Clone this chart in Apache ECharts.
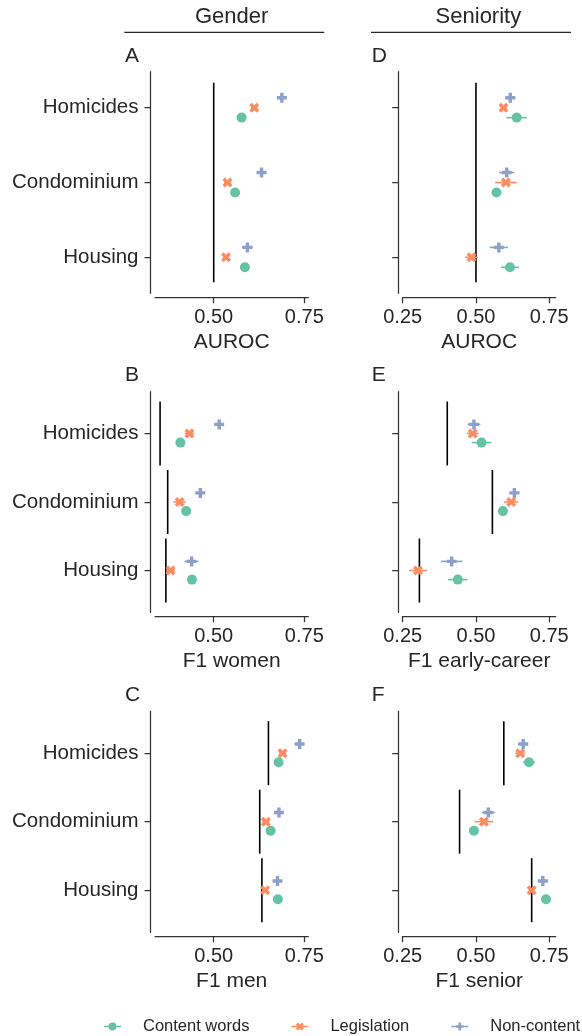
<!DOCTYPE html>
<html>
<head>
<meta charset="utf-8">
<script src="https://cdn.jsdelivr.net/npm/echarts@6/dist/echarts.min.js"></script>
<style>
html,body{margin:0;padding:0;background:#fff;}
#chart{width:582px;height:1036px;}
</style>
</head>
<body>
<div id="chart"></div>
<script>
// ---------- data ----------
const categories = ['Homicides', 'Condominium', 'Housing'];
const seriesNames = ['Content words', 'Legislation', 'Non-content'];
const leftTicks = [0.5, 0.75];
const rightTicks = [0.25, 0.5, 0.75];
const panelLetters = ['A', 'B', 'C', 'D', 'E', 'F'];
const axisTitles = ['AUROC', 'F1 women', 'F1 men', 'AUROC', 'F1 early-career', 'F1 senior'];
const groupTitles = ['Gender', 'Seniority'];

// rows: Content words, Legislation, Non-content ; columns: categories
const A_mean = [[0.577, 0.559, 0.586], [0.612, 0.538, 0.534], [0.688, 0.632, 0.593]];
const A_err  = [[0.008, 0.008, 0.008], [0.009, 0.009, 0.008], [0.011, 0.010, 0.015]];
const B_mean = [[0.408, 0.424, 0.440], [0.433, 0.406, 0.381], [0.515, 0.463, 0.439]];
const B_err  = [[0.008, 0.008, 0.008], [0.013, 0.017, 0.012], [0.013, 0.013, 0.019]];
const C_mean = [[0.679, 0.657, 0.677], [0.690, 0.644, 0.642], [0.737, 0.680, 0.676]];
const C_err  = [[0.008, 0.008, 0.008], [0.010, 0.010, 0.008], [0.012, 0.010, 0.010]];
const D_mean = [[0.639, 0.570, 0.616], [0.594, 0.602, 0.485], [0.617, 0.605, 0.578]];
const D_err  = [[0.035, 0.010, 0.031], [0.010, 0.037, 0.022], [0.017, 0.026, 0.031]];
const E_mean = [[0.519, 0.592, 0.438], [0.489, 0.620, 0.302], [0.493, 0.631, 0.417]];
const E_err  = [[0.034, 0.010, 0.033], [0.020, 0.024, 0.031], [0.022, 0.017, 0.037]];
const F_mean = [[0.681, 0.493, 0.739], [0.651, 0.527, 0.690], [0.661, 0.542, 0.728]];
const F_err  = [[0.020, 0.012, 0.010], [0.017, 0.032, 0.010], [0.017, 0.022, 0.017]];

const chanceAUROC = 0.5;
const B_base = [0.352, 0.373, 0.368];
const C_base = [0.651, 0.627, 0.633];
const E_base = [0.402, 0.556, 0.307];
const F_base = [0.595, 0.444, 0.690];

// ---------- styling / layout ----------
const FONT = '"Liberation Sans", Arial, Helvetica, sans-serif';
const TXT = '#262626';
const AX = '#333333';
const colors = ['#66c2a5', '#fc8d62', '#8da0cb'];
const xPath = 'path://M75,0 L100,25 L75,50 L100,75 L75,100 L50,75 L25,100 L0,75 L25,50 L0,25 L25,0 L50,25 Z';
const plusPath = 'path://M33,0 H67 V33 H100 V67 H67 V100 H33 V67 H0 V33 H33 Z';
const symbols = ['circle', xPath, plusPath];
const symbolSizes = [10, 10, 10];
const dodge = [0.133, 0, -0.133];

const lineSeg = 'M0,38 H170 V52 H0 Z ';
const legendIcons = [
  'path://' + lineSeg + 'M45,45 A40,40 0 1,1 125,45 A40,40 0 1,1 45,45 Z',
  'path://' + lineSeg + 'M105,5 L125,25 L105,45 L125,65 L105,85 L85,65 L65,85 L45,65 L65,45 L45,25 L65,5 L85,25 Z',
  'path://' + lineSeg + 'M71.5,5 H98.5 V31.5 H125 V58.5 H98.5 V85 H71.5 V58.5 H45 V31.5 H71.5 Z'
];

const rows = [
  {top: 71.7, height: 221.6, ymin: -0.48, ymax: 2.48, letterY: 56.7},
  {top: 391.7, height: 220.6, ymin: -0.61, ymax: 2.61, letterY: 375},
  {top: 711, height: 221.3, ymin: -0.615, ymax: 2.615, letterY: 695}
];
const cols = [
  {left: 155, width: 153.3, xmin: 0.338, xmax: 0.761, ticks: leftTicks, labels: true, letterX: 125, lineX1: 124.3, lineX2: 324.3},
  {left: 402.7, width: 153, xmin: 0.25, xmax: 0.772, ticks: rightTicks, labels: false, letterX: 371.7, lineX1: 371, lineX2: 571}
];

const panels = [
  {mean: A_mean, err: A_err, base: null, col: 0, row: 0},
  {mean: B_mean, err: B_err, base: B_base, col: 0, row: 1},
  {mean: C_mean, err: C_err, base: C_base, col: 0, row: 2},
  {mean: D_mean, err: D_err, base: null, col: 1, row: 0},
  {mean: E_mean, err: E_err, base: E_base, col: 1, row: 1},
  {mean: F_mean, err: F_err, base: F_base, col: 1, row: 2}
];

const grid = [], xAxis = [], yAxis = [], series = [], graphic = [];

function vLine(params, api) {
  const p1 = api.coord([api.value(0), api.value(1)]);
  const p2 = api.coord([api.value(0), api.value(2)]);
  return {type: 'line', shape: {x1: p1[0], y1: p1[1], x2: p2[0], y2: p2[1]},
          style: {stroke: '#000', lineWidth: 1.6}};
}
function hLineFactory(color) {
  return function (params, api) {
    const p1 = api.coord([api.value(0), api.value(2)]);
    const p2 = api.coord([api.value(1), api.value(2)]);
    return {type: 'line', shape: {x1: p1[0], y1: p1[1], x2: p2[0], y2: p2[1]},
            style: {stroke: color, lineWidth: 1.6}};
  };
}

panels.forEach((p, k) => {
  const c = cols[p.col], r = rows[p.row];
  grid.push({left: c.left, top: r.top, width: c.width, height: r.height});
  xAxis.push({
    type: 'value', gridIndex: k, min: c.xmin, max: c.xmax, offset: 4,
    axisLine: {show: true, onZero: false, lineStyle: {color: AX, width: 1.25}},
    axisTick: {show: true, customValues: c.ticks, length: 6, lineStyle: {color: AX, width: 1.25}},
    axisLabel: {customValues: c.ticks, formatter: v => v.toFixed(2), fontSize: 20, color: TXT,
                fontFamily: FONT, margin: 10, hideOverlap: false},
    splitLine: {show: false},
    name: axisTitles[k], nameLocation: 'middle', nameGap: 34,
    nameTextStyle: {fontSize: 21, color: TXT, fontFamily: FONT}
  });
  yAxis.push({
    type: 'value', gridIndex: k, inverse: true, min: r.ymin, max: r.ymax, offset: 4.5,
    axisLine: {show: true, onZero: false, lineStyle: {color: AX, width: 1.25}},
    axisTick: {show: true, customValues: [0, 1, 2], length: 6, lineStyle: {color: AX, width: 1.25}},
    axisLabel: {show: c.labels, customValues: [0, 1, 2], formatter: v => categories[Math.round(v)],
                fontSize: 20.5, color: TXT, fontFamily: FONT, margin: 12},
    splitLine: {show: false}
  });

  // baseline(s)
  let baseData;
  if (p.base === null) {
    baseData = [[chanceAUROC, -0.333, categories.length - 1 + 0.333]];
  } else {
    baseData = p.base.map((b, i) => [b, i - 0.467, i + 0.467]);
  }
  series.push({type: 'custom', xAxisIndex: k, yAxisIndex: k, renderItem: vLine, data: baseData,
               silent: true, z: 1, encode: {x: 0, y: [1, 2]}});

  seriesNames.forEach((name, s) => {
    series.push({
      type: 'custom', xAxisIndex: k, yAxisIndex: k, renderItem: hLineFactory(colors[s]),
      data: p.mean[s].map((m, i) => [m - p.err[s][i], m + p.err[s][i], i + dodge[s]]),
      silent: true, z: 2, encode: {x: [0, 1], y: 2}
    });
    series.push({
      type: 'scatter', name: name, xAxisIndex: k, yAxisIndex: k,
      data: p.mean[s].map((m, i) => [m, i + dodge[s]]),
      symbol: symbols[s], symbolSize: symbolSizes[s], itemStyle: {color: colors[s], opacity: 1}, z: 3
    });
  });

  graphic.push({type: 'text', x: c.letterX, y: r.letterY,
    style: {text: panelLetters[k], fill: TXT, font: '21px ' + FONT, textAlign: 'left',
            verticalAlign: 'middle', textVerticalAlign: 'middle'}});
});

cols.forEach((c, j) => {
  graphic.push({type: 'text', x: (c.lineX1 + c.lineX2) / 2 + 7.4, y: 16.7,
    style: {text: groupTitles[j], fill: TXT, font: '22px ' + FONT, textAlign: 'center',
            verticalAlign: 'middle', textVerticalAlign: 'middle'}});
  graphic.push({type: 'line', shape: {x1: c.lineX1, y1: 32.3, x2: c.lineX2, y2: 32.3},
    style: {stroke: TXT, lineWidth: 1.2}});
});

const option = {
  animation: false,
  backgroundColor: '#fff',
  grid, xAxis, yAxis, series, graphic,
  legend: {
    left: 104, top: 1018, width: 478, padding: 0, itemWidth: 17, itemHeight: 9, itemGap: 42,
    selectedMode: false,
    data: seriesNames.map((n, i) => ({name: n, icon: legendIcons[i]})),
    textStyle: {fontSize: 16.5, color: TXT, fontFamily: FONT, padding: [0, 0, 0, 17]}
  }
};

const chart = echarts.init(document.getElementById('chart'), null, {renderer: 'canvas'});
chart.setOption(option);
</script>
</body>
</html>
